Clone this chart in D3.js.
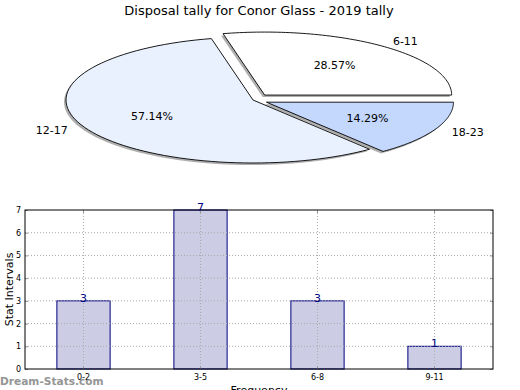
<!DOCTYPE html>
<html><head><meta charset="utf-8">
<script src="https://cdn.jsdelivr.net/npm/d3@7"></script>
<style>body{margin:0;background:#fff}svg{display:block;font-family:"DejaVu Sans",sans-serif}</style>
</head><body><svg id="c" width="520" height="390"></svg>
<script>
const title = "Disposal tally for Conor Glass - 2019 tally";
const pieLabels = ["6-11", "12-17", "18-23"];
const pieValues = [2, 4, 1];
const pieColors = ["#ffffff", "#eaf1fe", "#c4d8fe"];
const pieExplode = [0.1, 0, 0.08];

const barCategories = ["0-2", "3-5", "6-8", "9-11"];
const barValues = [3, 7, 3, 1];
const yTicks = [0, 1, 2, 3, 4, 5, 6, 7];
const xLabel = "Frequency";
const yLabel = "Stat Intervals";
const watermark = "Dream-Stats.com";

const svg = d3.select("#c");

svg.append("text").attr("x", 259).attr("y", 15).attr("text-anchor", "middle")
  .attr("font-size", 13).attr("fill", "#000").text(title);

// ---- Pie (elliptical, matplotlib-style, start at 0 deg counterclockwise)
const cx = 253, cy = 100, rx = 187, ry = 63;
const total = d3.sum(pieValues);
const angle = d3.scaleLinear().domain([0, total]).range([0, 2 * Math.PI]);
let cum = 0;
const wedges = pieValues.map((v, i) => {
  const a0 = angle(cum), a1 = angle(cum + v); cum += v;
  return {i, a0, a1, mid: (a0 + a1) / 2, v};
});
const pt = (ox, oy, r, a) => [ox + r * rx * Math.cos(a), oy - r * ry * Math.sin(a)];
function wedgePath(ox, oy, a0, a1) {
  const n = 80; const pts = [[ox, oy]];
  for (let k = 0; k <= n; k++) pts.push(pt(ox, oy, 1, a0 + (a1 - a0) * k / n));
  return d3.line()(pts) + "Z";
}
const pg = svg.append("g");
wedges.forEach(w => {
  const ox = cx + pieExplode[w.i] * rx * Math.cos(w.mid);
  const oy = cy - pieExplode[w.i] * ry * Math.sin(w.mid);
  w.ox = ox; w.oy = oy;
  pg.append("path").attr("d", wedgePath(ox - 2, oy + 2, w.a0, w.a1)).attr("fill", "#8c8c8c").attr("opacity", 0.7);
});
wedges.forEach(w => {
  pg.append("path").attr("d", wedgePath(w.ox, w.oy, w.a0, w.a1))
    .attr("fill", pieColors[w.i]).attr("stroke", "#000").attr("stroke-width", 0.9)
    .attr("stroke-linejoin", "miter");
});
wedges.forEach(w => {
  const [lx, ly] = pt(w.ox, w.oy, 1.1, w.mid);
  pg.append("text").attr("x", lx).attr("y", ly).attr("dy", "0.35em")
    .attr("text-anchor", Math.cos(w.mid) > 0 ? "start" : "end")
    .attr("font-size", 11).text(pieLabels[w.i]);
  const [px, py] = pt(w.ox, w.oy, 0.6, w.mid);
  pg.append("text").attr("x", px).attr("y", py).attr("dy", "0.35em")
    .attr("text-anchor", "middle").attr("font-size", 11)
    .text((w.v / total * 100).toFixed(2) + "%");
});

// ---- Bar chart
const L = 25, R = 493, T = 210, B = 369;
const x = d3.scaleBand().domain(barCategories).range([L, R]).paddingInner(0).paddingOuter(0);
const y = d3.scaleLinear().domain([0, 7]).range([B, T]);
const bg = svg.append("g");
const bw = x.bandwidth() * 0.455;

bg.selectAll("rect.bar").data(barValues).join("rect").attr("class", "bar")
  .attr("x", (d, i) => x(barCategories[i]) + x.bandwidth() / 2 - bw / 2)
  .attr("y", d => y(d)).attr("width", bw).attr("height", d => B - y(d))
  .attr("fill", "#cccce5").attr("stroke", "#000080").attr("stroke-width", 1);

// grid
bg.selectAll("line.hg").data(yTicks.slice(1, -1)).join("line")
  .attr("x1", L).attr("x2", R).attr("y1", d => y(d)).attr("y2", d => y(d))
  .attr("stroke", "#aaaaaa").attr("stroke-width", 1).attr("stroke-dasharray", "1,2");
bg.selectAll("line.vg").data(barCategories).join("line")
  .attr("x1", d => x(d) + x.bandwidth() / 2).attr("x2", d => x(d) + x.bandwidth() / 2)
  .attr("y1", T).attr("y2", B)
  .attr("stroke", "#aaaaaa").attr("stroke-width", 1).attr("stroke-dasharray", "1,2");

// axes
const ya = d3.axisLeft(y).tickValues(yTicks).tickSize(-3).tickPadding(4).tickFormat(d3.format("d"));
const yg = bg.append("g").attr("transform", `translate(${L},0)`).call(ya);
const yr = bg.append("g").attr("transform", `translate(${R},0)`).call(d3.axisRight(y).tickValues(yTicks).tickSize(-3).tickFormat(""));
const xa = d3.axisBottom(x).tickSize(-3).tickPadding(5);
const xg = bg.append("g").attr("transform", `translate(0,${B})`).call(xa);
const xt = bg.append("g").attr("transform", `translate(0,${T})`).call(d3.axisTop(x).tickSize(-3).tickFormat(""));
[yg, yr, xg, xt].forEach(g => {
  g.select(".domain").remove();
  g.selectAll(".tick line").attr("stroke", "#999");
  g.selectAll("text").attr("font-size", 8).attr("fill", "#000").attr("font-family", "DejaVu Sans, sans-serif");
});
bg.append("rect").attr("x", L).attr("y", T).attr("width", R - L).attr("height", B - T)
  .attr("fill", "none").attr("stroke", "#000").attr("stroke-width", 1);

// value labels
bg.selectAll("text.val").data(barValues).join("text")
  .attr("x", (d, i) => x(barCategories[i]) + x.bandwidth() / 2)
  .attr("y", d => y(d) + 1).attr("text-anchor", "middle")
  .attr("font-size", 11).attr("fill", "#000080").text(d => d);

svg.append("text").attr("transform", `translate(13,${(T + B) / 2}) rotate(-90)`)
  .attr("text-anchor", "middle").attr("font-size", 11).text(yLabel);
svg.append("text").attr("x", 259).attr("y", 394).attr("text-anchor", "middle")
  .attr("font-size", 11).text(xLabel);
svg.append("text").attr("x", 0).attr("y", 385).attr("font-size", 10.6)
  .attr("font-weight", "bold").attr("fill", "#8a8a8a").attr("opacity", 0.9).text(watermark);
</script></body></html>
